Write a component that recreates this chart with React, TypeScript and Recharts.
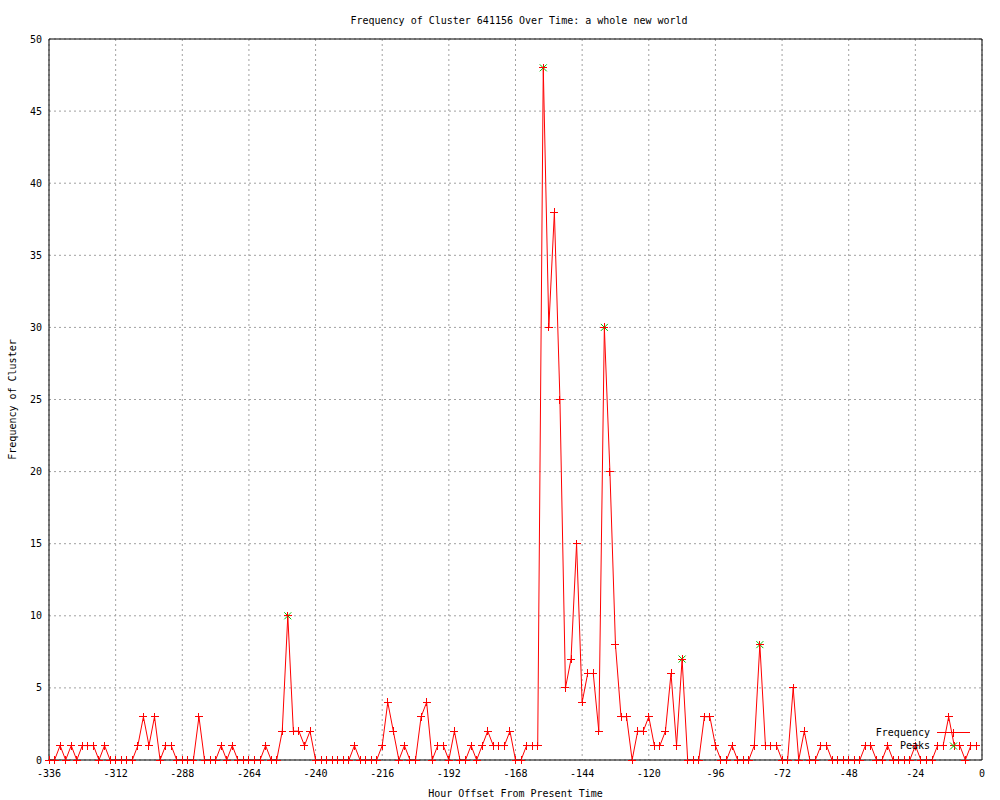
import { ComposedChart, Line, Scatter, XAxis, YAxis, CartesianGrid, Legend } from 'recharts'

// hour offsets, one sample every 2 hours
const HOURS = [
  -336, -334, -332, -330, -328, -326, -324, -322, -320, -318, -316, -314,
  -312, -310, -308, -306, -304, -302, -300, -298, -296, -294, -292, -290,
  -288, -286, -284, -282, -280, -278, -276, -274, -272, -270, -268, -266,
  -264, -262, -260, -258, -256, -254, -252, -250, -248, -246, -244, -242,
  -240, -238, -236, -234, -232, -230, -228, -226, -224, -222, -220, -218,
  -216, -214, -212, -210, -208, -206, -204, -202, -200, -198, -196, -194,
  -192, -190, -188, -186, -184, -182, -180, -178, -176, -174, -172, -170,
  -168, -166, -164, -162, -160, -158, -156, -154, -152, -150, -148, -146,
  -144, -142, -140, -138, -136, -134, -132, -130, -128, -126, -124, -122,
  -120, -118, -116, -114, -112, -110, -108, -106, -104, -102, -100, -98,
  -96, -94, -92, -90, -88, -86, -84, -82, -80, -78, -76, -74,
  -72, -70, -68, -66, -64, -62, -60, -58, -56, -54, -52, -50,
  -48, -46, -44, -42, -40, -38, -36, -34, -32, -30, -28, -26,
  -24, -22, -20, -18, -16, -14, -12, -10, -8, -6, -4, -2,
]

const FREQUENCY = [
  0, 0, 1, 0, 1, 0, 1, 1, 1, 0, 1, 0,
  0, 0, 0, 0, 1, 3, 1, 3, 0, 1, 1, 0,
  0, 0, 0, 3, 0, 0, 0, 1, 0, 1, 0, 0,
  0, 0, 0, 1, 0, 0, 2, 10, 2, 2, 1, 2,
  0, 0, 0, 0, 0, 0, 0, 1, 0, 0, 0, 0,
  1, 4, 2, 0, 1, 0, 0, 3, 4, 0, 1, 1,
  0, 2, 0, 0, 1, 0, 1, 2, 1, 1, 1, 2,
  0, 0, 1, 1, 1, 48, 30, 38, 25, 5, 7, 15,
  4, 6, 6, 2, 30, 20, 8, 3, 3, 0, 2, 2,
  3, 1, 1, 2, 6, 1, 7, 0, 0, 0, 3, 3,
  1, 0, 0, 1, 0, 0, 0, 1, 8, 1, 1, 1,
  0, 0, 5, 0, 2, 0, 0, 1, 1, 0, 0, 0,
  0, 0, 0, 1, 1, 0, 0, 1, 0, 0, 0, 0,
  1, 0, 0, 0, 1, 1, 3, 1, 1, 0, 1, 1,
]

const PEAK_HOURS = [-250, -158, -136, -108, -80]

const X_TICKS = [-336, -312, -288, -264, -240, -216, -192, -168, -144, -120, -96, -72, -48, -24, 0]
const Y_TICKS = [0, 5, 10, 15, 20, 25, 30, 35, 40, 45, 50]

const TITLE = 'Frequency of Cluster 641156 Over Time: a whole new world'
const X_LABEL = 'Hour Offset From Present Time'
const Y_LABEL = 'Frequency of Cluster'

const FONT = '"DejaVu Sans Mono", monospace'
const RED = '#ff0000'
const GREEN = '#00c000'

const data = HOURS.map((hour, i) => ({ hour, freq: FREQUENCY[i] }))
const peaks = data.filter((d) => PEAK_HOURS.includes(d.hour))

const tickFont = { fontSize: 10, fontFamily: FONT, fill: '#000' }

function PlusMark({ cx, cy }: { cx?: number; cy?: number }) {
  if (cx == null || cy == null) return null
  return (
    <path
      d={`M${cx - 4},${cy}h8M${cx},${cy - 4}v8`}
      stroke={RED}
      strokeWidth={1}
      fill="none"
      shapeRendering="crispEdges"
    />
  )
}

function CrossMark({ cx, cy }: { cx?: number; cy?: number }) {
  if (cx == null || cy == null) return null
  return (
    <path
      d={`M${cx - 3.5},${cy - 3.5}L${cx + 3.5},${cy + 3.5}M${cx - 3.5},${cy + 3.5}L${cx + 3.5},${cy - 3.5}`}
      stroke={GREEN}
      strokeWidth={1}
      fill="none"
    />
  )
}

function KeyBox() {
  return (
    <svg width={130} height={32} style={{ display: 'block' }}>
      <text x={70} y={12} textAnchor="end" fontFamily={FONT} fontSize={10} fill="#000">
        Frequency
      </text>
      <line x1={77} x2={110} y1={8.5} y2={8.5} stroke={RED} />
      <PlusMark cx={93.5} cy={8.5} />
      <text x={70} y={25} textAnchor="end" fontFamily={FONT} fontSize={10} fill="#000">
        Peaks
      </text>
      <CrossMark cx={93.5} cy={22} />
    </svg>
  )
}

export default function App() {
  return (
    <div style={{ position: 'absolute', left: 0, top: 0, width: 1000, height: 800, background: '#fff' }}>
      <ComposedChart width={1000} height={800} data={data} margin={{ top: 39, right: 18, bottom: 0, left: 0 }}>
        <CartesianGrid stroke="#a0a0a0" strokeDasharray="2 3" />
        <XAxis
          dataKey="hour"
          type="number"
          domain={[-336, 0]}
          ticks={X_TICKS}
          interval={0}
          height={40}
          tickLine={false}
          axisLine={false}
          tickSize={6}
          tickMargin={4}
          tick={tickFont}
          label={{ value: X_LABEL, position: 'insideBottom', offset: 3, fontSize: 10, fontFamily: FONT, fill: '#000' }}
        />
        <YAxis
          type="number"
          domain={[0, 50]}
          ticks={Y_TICKS}
          interval={0}
          width={49}
          tickLine={false}
          axisLine={false}
          tickSize={6}
          tickMargin={1}
          tick={tickFont}
          label={{
            value: Y_LABEL,
            angle: -90,
            position: 'insideLeft',
            offset: 12,
            fontSize: 10,
            fontFamily: FONT,
            fill: '#000',
            style: { textAnchor: 'middle' },
          }}
        />
        {/* inward ticks on all four sides + the border, gnuplot style */}
        <XAxis
          xAxisId="bottomTicks"
          dataKey="hour"
          type="number"
          domain={[-336, 0]}
          allowDataOverflow
          ticks={X_TICKS}
          interval={0}
          orientation="bottom"
          mirror
          tick={false}
          tickSize={16}
          tickLine={{ stroke: '#000' }}
          axisLine={{ stroke: '#000' }}
        />
        <XAxis
          xAxisId="topTicks"
          dataKey="hour"
          type="number"
          domain={[-336, 0]}
          allowDataOverflow
          ticks={X_TICKS}
          interval={0}
          orientation="top"
          mirror
          tick={false}
          tickSize={16}
          tickLine={{ stroke: '#000' }}
          axisLine={{ stroke: '#000' }}
        />
        <YAxis
          yAxisId="leftTicks"
          type="number"
          domain={[0, 50]}
          allowDataOverflow
          ticks={Y_TICKS}
          interval={0}
          orientation="left"
          mirror
          tick={false}
          tickSize={16}
          tickLine={{ stroke: '#000' }}
          axisLine={{ stroke: '#000' }}
        />
        <YAxis
          yAxisId="rightTicks"
          type="number"
          domain={[0, 50]}
          allowDataOverflow
          ticks={Y_TICKS}
          interval={0}
          orientation="right"
          mirror
          tick={false}
          tickSize={16}
          tickLine={{ stroke: '#000' }}
          axisLine={{ stroke: '#000' }}
        />
        <Line
          type="linear"
          dataKey="freq"
          name="Frequency"
          stroke={RED}
          strokeWidth={1}
          dot={(p: any) => <PlusMark key={`f-${p.index}`} cx={p.cx} cy={p.cy} />}
          activeDot={false}
          isAnimationActive={false}
        />
        <Scatter
          data={peaks}
          dataKey="freq"
          name="Peaks"
          shape={(p: any) => <CrossMark cx={p.cx} cy={p.cy} />}
          isAnimationActive={false}
        />
        <Legend
          layout="vertical"
          align="center"
          verticalAlign="middle"
          content={() => <KeyBox />}
          wrapperStyle={{ left: 860, top: 724, width: 130, height: 32 }}
        />
      </ComposedChart>
      <svg width={1000} height={32} style={{ position: 'absolute', left: 0, top: 0 }}>
        <text x={519} y={24} textAnchor="middle" fontFamily={FONT} fontSize={10} fill="#000">
          {TITLE}
        </text>
      </svg>
    </div>
  )
}
